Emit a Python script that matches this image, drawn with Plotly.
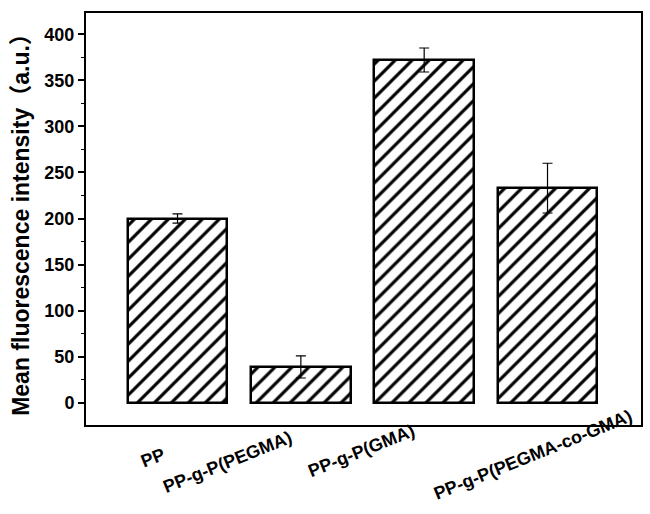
import plotly.graph_objects as go

categories = ["PP", "PP-g-P(PEGMA)", "PP-g-P(GMA)", "PP-g-P(PEGMA-co-GMA)"]
means = [200, 39, 372, 233]
errors = [5, 12, 13, 27]
y_ticks = [0, 50, 100, 150, 200, 250, 300, 350, 400]
x_pos = [1, 2, 3, 4]

# label layout offsets (px) for the rotated category labels
label_dx = [-25, -73, -63, -15]
label_dy = [-33, -37, -26, -30]

FONT = "Liberation Sans, Arial, sans-serif"

fig = go.Figure()
fig.add_trace(go.Bar(
    x=x_pos, y=means, width=0.807,
    marker=dict(color="white", line=dict(color="black", width=2.5),
                pattern=dict(shape="/", fgcolor="black", fgopacity=1, bgcolor="white", size=12, solidity=0.26)),
    error_y=dict(type="data", array=errors, visible=True, color="black", thickness=1.2, width=5),
))

for i, (xp, lab) in enumerate(zip(x_pos, categories)):
    fig.add_annotation(x=xp, y=0, xref="x", yref="paper", text="<b>%s</b>" % lab,
                       showarrow=False, textangle=-22, xanchor="center", yanchor="middle",
                       xshift=label_dx[i], yshift=label_dy[i],
                       font=dict(family=FONT, size=18, color="black"))

fig.update_layout(
    width=650, height=514,
    margin=dict(l=86, r=9, t=13, b=89, autoexpand=False),
    plot_bgcolor="white", paper_bgcolor="white",
    showlegend=False,
    bargap=0,
)
fig.update_xaxes(range=[0.258, 4.758], showticklabels=False, ticks="", showgrid=False, zeroline=False,
                 showline=True, linecolor="black", linewidth=2, mirror=True)
fig.update_yaxes(range=[-24, 423], tickvals=y_ticks, ticktext=["<b>%d</b>" % v for v in y_ticks],
                 ticks="outside", ticklen=6, tickwidth=1.5, tickcolor="black",
                 minor=dict(ticks="outside", ticklen=3, tickwidth=1, tickcolor="black", dtick=25),
                 showgrid=False, zeroline=False, showline=True, linecolor="black", linewidth=2, mirror=True,
                 automargin=False,
                 tickfont=dict(family=FONT, size=18, color="black"),
                 title=dict(text="<b>Mean fluorescence intensity（a.u.）</b>",
                            font=dict(family=FONT + ", Noto Sans CJK SC", size=23, color="black"), standoff=8))

fig.write_html("out.html", config={"displayModeBar": False},
               post_script="document.body.style.margin='0';document.body.style.overflow='hidden';")
